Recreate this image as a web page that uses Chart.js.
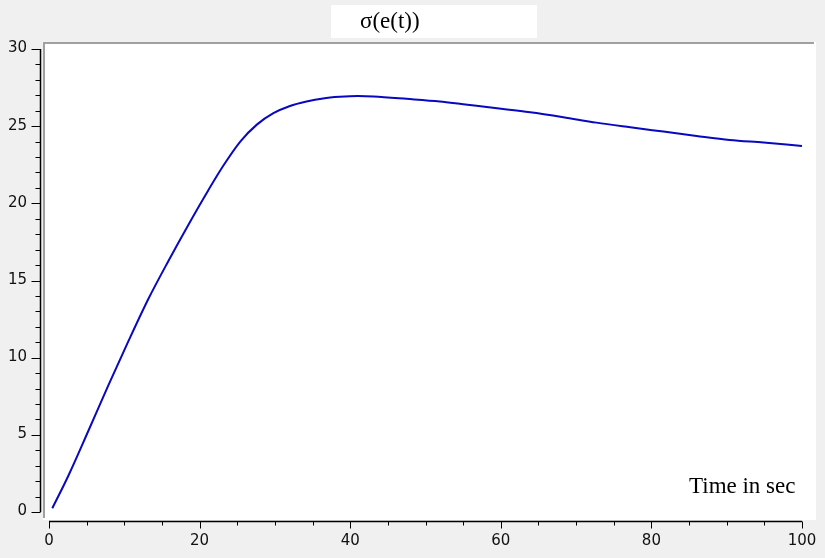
<!DOCTYPE html>
<html>
<head>
<meta charset="utf-8">
<script src="https://cdn.jsdelivr.net/npm/chart.js@4/dist/chart.umd.min.js"></script>
<style>
  html, body { margin: 0; padding: 0; background: #f0f0f0; }
  canvas { display: block; }
</style>
</head>
<body>
<canvas id="c" width="825" height="558"></canvas>
<script>
// ---- data ----
const timeSec = [0.44, 2.57, 5.22, 7.88, 10.53, 13.19, 15.84, 18.5, 21.16, 23.1, 25.4, 27.6, 29.8, 32.0, 34.2, 36.4, 38.6, 41.0, 43.1, 47.5, 51.9, 55.0, 59.5, 63.9, 68.3, 72.7, 77.2, 81.6, 86.0, 90.4, 94.9, 100];
const sigmaValues = [0.24, 2.35, 5.25, 8.2, 11.05, 13.8, 16.25, 18.6, 20.85, 22.4, 24.0, 25.1, 25.84, 26.31, 26.6, 26.8, 26.9, 26.95, 26.92, 26.77, 26.6, 26.42, 26.16, 25.9, 25.58, 25.23, 24.93, 24.65, 24.37, 24.11, 23.94, 23.72];
const xTickLabels = ['0', '20', '40', '60', '80', '100'];
const yTickLabels = ['0', '5', '10', '15', '20', '25', '30'];
const xMinorStep = 5;
const yMinorStep = 1;
const titleText = 'σ(e(t))';
const xAxisText = 'Time in sec';

const points = timeSec.map((t, i) => ({ x: t, y: sigmaValues[i] }));

const framePlugin = {
  id: 'frame',
  beforeDraw(chart) {
    const ctx = chart.ctx;
    const xs = chart.scales.x, ys = chart.scales.y;
    const W = chart.width, H = chart.height;
    ctx.save();
    // page background
    ctx.fillStyle = '#f0f0f0';
    ctx.fillRect(0, 0, W, H);
    // white plot panel
    ctx.fillStyle = '#ffffff';
    ctx.fillRect(43, 42, 773, 478);
    // sunken border (top + left)
    ctx.fillStyle = '#a0a0a0';
    ctx.fillRect(43, 42, 771, 2);
    ctx.fillRect(43, 42, 2, 476);
    // title box
    ctx.fillStyle = '#ffffff';
    ctx.fillRect(331, 5, 206, 33);
    ctx.fillStyle = '#000000';
    ctx.font = '23px "Liberation Serif", "Times New Roman", serif';
    ctx.textAlign = 'left';
    ctx.textBaseline = 'alphabetic';
    ctx.fillText(titleText, 360, 28);
    // axis caption inside plot
    ctx.font = '23px "Liberation Serif", "Times New Roman", serif';
    ctx.fillText(xAxisText, 689, 493);

    // ---- y axis ----
    const yAxisX = 40.5;
    const yTop = ys.getPixelForValue(ys.max);
    const yBot = ys.getPixelForValue(ys.min);
    ctx.strokeStyle = '#000000';
    ctx.lineWidth = 1.5;
    ctx.beginPath();
    ctx.moveTo(yAxisX, yTop);
    ctx.lineTo(yAxisX, yBot);
    ctx.stroke();
    ctx.lineWidth = 1;
    for (let v = ys.min; v <= ys.max + 1e-9; v += yMinorStep) {
      const py = Math.round(ys.getPixelForValue(v)) + 0.5;
      const major = yTickLabels.includes(String(v));
      ctx.beginPath();
      ctx.moveTo(yAxisX - (major ? 9 : 5), py);
      ctx.lineTo(yAxisX, py);
      ctx.stroke();
    }
    ctx.font = '15px "DejaVu Sans", Tahoma, sans-serif';
    ctx.fillStyle = '#111111';
    ctx.textAlign = 'right';
    ctx.textBaseline = 'middle';
    yTickLabels.forEach(l => {
      ctx.fillText(l, 27, ys.getPixelForValue(Number(l)) - 0.5);
    });

    // ---- x axis ----
    const xAxisY = 521.5;
    const xL = xs.getPixelForValue(xs.min);
    const xR = xs.getPixelForValue(xs.max);
    ctx.lineWidth = 1.5;
    ctx.beginPath();
    ctx.moveTo(xL, xAxisY);
    ctx.lineTo(xR, xAxisY);
    ctx.stroke();
    ctx.lineWidth = 1;
    for (let v = xs.min; v <= xs.max + 1e-9; v += xMinorStep) {
      const px = Math.round(xs.getPixelForValue(v)) + 0.5;
      const major = xTickLabels.includes(String(v));
      ctx.beginPath();
      ctx.moveTo(px, xAxisY);
      ctx.lineTo(px, xAxisY + (major ? 7 : 4));
      ctx.stroke();
    }
    ctx.textAlign = 'center';
    ctx.textBaseline = 'middle';
    xTickLabels.forEach(l => {
      ctx.fillText(l, xs.getPixelForValue(Number(l)), 541.5);
    });
    ctx.restore();
  }
};

new Chart(document.getElementById('c'), {
  type: 'scatter',
  data: {
    datasets: [{
      label: titleText,
      data: points,
      showLine: true,
      borderColor: '#0808bf',
      borderWidth: 2,
      pointRadius: 0,
      fill: false,
      cubicInterpolationMode: 'monotone',
      clip: false
    }]
  },
  options: {
    responsive: false,
    animation: false,
    devicePixelRatio: 1,
    layout: { padding: { left: 49, top: 49, right: 23, bottom: 46 } },
    plugins: { legend: { display: false }, tooltip: { enabled: false }, title: { display: false } },
    scales: {
      x: { type: 'linear', min: 0, max: 100, display: false },
      y: { type: 'linear', min: 0, max: 30, display: false }
    }
  },
  plugins: [framePlugin]
});
</script>
</body>
</html>
